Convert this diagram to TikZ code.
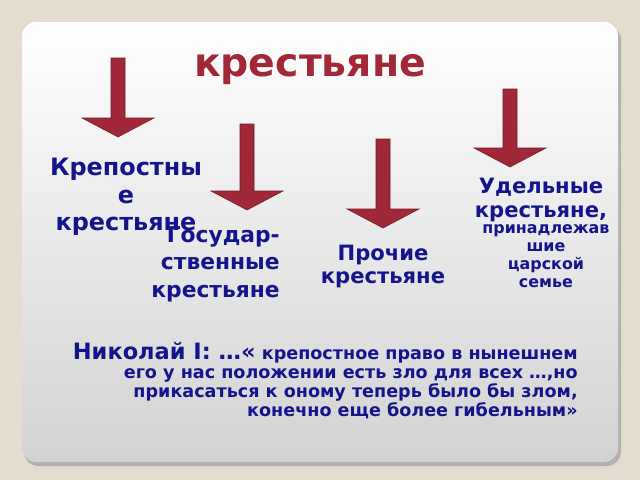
\documentclass[tikz,border=0pt]{standalone}
\usepackage{fontspec}
\setmainfont{DejaVu Sans}
\definecolor{bgbeige}{RGB}{228,220,206}
\definecolor{arrowred}{RGB}{160,40,56}
\definecolor{textnavy}{RGB}{20,20,140}
\tikzset{
  txt/.style={text=textnavy,font=\bfseries\fontsize{15.5}{19.5}\selectfont,inner sep=0pt,align=center},
  small/.style={text=textnavy,font=\bfseries\fontsize{11.3}{12.8}\selectfont,inner sep=0pt,align=center},
  pics/redarrow/.style={code={
    \fill[arrowred,draw=arrowred!70!black,thin] (-7,0) -- (-7,#1) -- (-36,#1) -- (0,#1+19) -- (36,#1) -- (7,#1) -- (7,0) -- cycle;}}
}
\begin{document}
\begin{tikzpicture}[x=0.025cm,y=-0.025cm]
	\useasboundingbox (0,0) rectangle (640,480);
	%background and slide
	\fill[bgbeige] (0,0) rectangle (640,480);
	\fill[gray!60,rounded corners=10pt] (24,26) rectangle (621,466); %shadow
	\shade[top color=white,bottom color=gray!35,rounded corners=10pt] (22,22) rectangle (618,462); %slide

	%title
	\node[text=arrowred,font=\bfseries\fontsize{28}{30}\selectfont] (title) at (310,70) {крестьяне};

	%arrows
	\pic at (118,58) {redarrow=60}; %serfs
	\pic at (247,124) {redarrow=67}; %state
	\pic at (383,139) {redarrow=70}; %other
	\pic at (510,89) {redarrow=59}; %appanage

	%labels
	\node[txt,font=\bfseries\fontsize{17}{19.5}\selectfont,anchor=north] (serf) at (126,158) {Крепостны\\е\\крестьяне};
	\node[txt,align=right,anchor=north east] (state) at (280,226) {Государ-\\ственные\\крестьяне};
	\node[txt,font=\bfseries\fontsize{15}{16}\selectfont,anchor=north] (other) at (383,245) {Прочие\\крестьяне};
	\node[txt,font=\bfseries\fontsize{15}{17}\selectfont,anchor=north] (appanage) at (541,178) {Удельные\\крестьяне,};
	\node[small,anchor=north] (royal) at (546,224) {принадлежав\\шие\\царской\\семье};

	%quote
	\node[small,font=\bfseries\fontsize{12.5}{13.5}\selectfont,align=right,anchor=north east] (quote) at (578,342)
	  {{\fontsize{16}{16}\selectfont Николай I: …«} крепостное право в нынешнем\\
	   его у нас положении есть зло для всех …,но\\
	   прикасаться к оному теперь было бы злом,\\
	   конечно еще более гибельным»};
\end{tikzpicture}
\end{document}
